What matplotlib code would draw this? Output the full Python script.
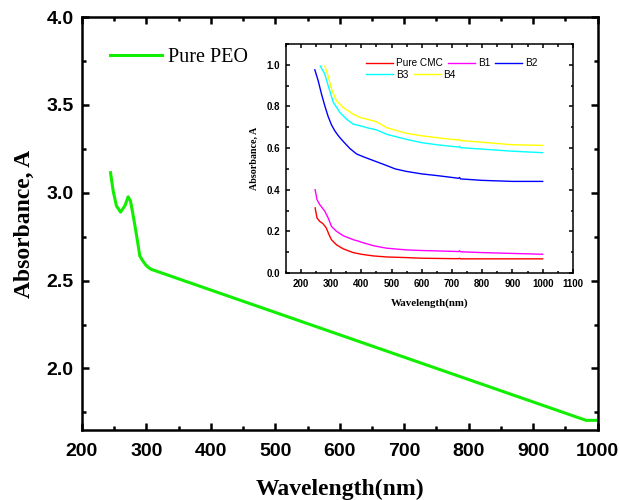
import numpy as np
import matplotlib.pyplot as plt
from matplotlib.ticker import MultipleLocator

SANS = "Liberation Sans"
SERIF = "Liberation Serif"

# main plot: pure PEO
peo_wl = [244.5, 248.6, 253.7, 260, 266.7, 271.8, 275.5, 280.6, 285.8, 289.9,
          295, 300, 307, 982, 1000]
peo_abs = [3.114, 3.01, 2.925, 2.89, 2.925, 2.977, 2.953, 2.85, 2.736, 2.64,
           2.61, 2.585, 2.565, 1.705, 1.705]

# inset: CMC blends
cmc_wl = [247, 253, 262, 273, 284, 293, 301, 318, 340, 373, 400, 440, 484, 549,
          600, 650, 700, 722, 725, 728, 800, 900, 1000]
cmc_abs = [0.313, 0.265, 0.248, 0.237, 0.216, 0.184, 0.16, 0.135, 0.116, 0.098,
           0.090, 0.082, 0.077, 0.074, 0.071, 0.070, 0.069, 0.069, 0.071, 0.068,
           0.068, 0.068, 0.068]

b1_wl = [247, 253, 262, 279, 290, 301, 318, 340, 373, 390, 400, 440, 484, 549,
         600, 650, 700, 722, 725, 728, 800, 900, 1000]
b1_abs = [0.40, 0.353, 0.329, 0.297, 0.265, 0.224, 0.20, 0.179, 0.16, 0.153,
          0.148, 0.131, 0.119, 0.111, 0.108, 0.106, 0.104, 0.103, 0.107, 0.102,
          0.098, 0.094, 0.090]

b2_wl = [246, 257, 268, 279, 290, 301, 312, 325, 340, 362, 384, 407, 440, 484,
         512, 549, 600, 650, 700, 722, 725, 728, 800, 900, 1000]
b2_abs = [0.976, 0.924, 0.86, 0.803, 0.752, 0.712, 0.683, 0.657, 0.632, 0.598,
          0.572, 0.558, 0.54, 0.516, 0.50, 0.488, 0.476, 0.468, 0.459, 0.455,
          0.459, 0.452, 0.445, 0.440, 0.440]

b3_wl = [264, 279, 290, 307, 329, 351, 373, 407, 418, 451, 484, 549, 600, 650,
         700, 722, 725, 728, 800, 900, 1000]
b3_abs = [0.994, 0.956, 0.90, 0.82, 0.771, 0.739, 0.715, 0.703, 0.698, 0.687,
          0.666, 0.642, 0.626, 0.616, 0.608, 0.605, 0.609, 0.602, 0.595, 0.585,
          0.578]

b4_wl = [279, 290, 301, 318, 340, 373, 396, 418, 451, 484, 549, 600, 650, 700,
         722, 725, 728, 800, 900, 1000]
b4_abs = [0.994, 0.948, 0.884, 0.827, 0.795, 0.763, 0.747, 0.739, 0.726, 0.698,
          0.671, 0.659, 0.65, 0.642, 0.639, 0.643, 0.636, 0.628, 0.616, 0.613]


def style_axes(ax, lw, major, minor, size, pad):
    for s in ax.spines.values():
        s.set_linewidth(lw)
    ax.tick_params(which="both", direction="in", top=True, right=True, width=lw)
    ax.tick_params(which="major", length=major, labelsize=size, pad=pad)
    ax.tick_params(which="minor", length=minor)
    for t in ax.get_xticklabels() + ax.get_yticklabels():
        t.set_fontfamily(SANS)
        t.set_fontweight("bold")


fig = plt.figure(figsize=(6.2, 5.0), dpi=100)
ax = fig.add_axes([0.132, 0.14, 0.832, 0.826])
ax.plot(peo_wl, peo_abs, color="#11ee00", lw=2.2, label="Pure PEO")
ax.set_xlim(200, 1000)
ax.set_ylim(1.65, 4.0)
ax.xaxis.set_major_locator(MultipleLocator(100))
ax.xaxis.set_minor_locator(MultipleLocator(50))
ax.yaxis.set_major_locator(MultipleLocator(0.5))
ax.yaxis.set_minor_locator(MultipleLocator(0.25))
style_axes(ax, 1.8, 5, 3, 14, 6)
ax.tick_params(axis="x", which="major", pad=9)
ax.set_xlabel("Wavelength(nm)", family=SERIF, weight="bold", size=17, labelpad=14)
ax.set_ylabel("Absorbance, A", family=SERIF, weight="bold", size=17, labelpad=8)
ax.legend(loc="center left", bbox_to_anchor=(0.054, 0.903), frameon=False,
          borderpad=0, borderaxespad=0, handlelength=2.6, handletextpad=0.3,
          prop={"family": SERIF, "size": 14.5})

# inset
ins = fig.add_axes([0.461, 0.454, 0.463, 0.458])
l1, = ins.plot(cmc_wl, cmc_abs, color="#ff0000", lw=1.0, label="Pure CMC")
l2, = ins.plot(b1_wl, b1_abs, color="#ff00ff", lw=1.0, label="B1")
l3, = ins.plot(b2_wl, b2_abs, color="#0000ff", lw=1.0, label="B2")
l4, = ins.plot(b3_wl, b3_abs, color="#00ffff", lw=1.0, label="B3")
l5, = ins.plot(b4_wl, b4_abs, color="#ffff00", lw=1.0, label="B4")
ins.set_xlim(150, 1100)
ins.set_ylim(0, 1.1)
ins.xaxis.set_major_locator(MultipleLocator(100))
ins.xaxis.set_minor_locator(MultipleLocator(50))
ins.yaxis.set_major_locator(MultipleLocator(0.2))
ins.yaxis.set_minor_locator(MultipleLocator(0.1))
ins.set_xticks(np.arange(200, 1101, 100))
ins.set_yticks(np.arange(0, 1.01, 0.2))
ins.set_yticklabels([f"{v:.1f}" for v in np.arange(0, 1.01, 0.2)])
style_axes(ins, 1.1, 3, 1.8, 7, 4)
ins.set_xlabel("Wavelength(nm)", family=SERIF, weight="bold", size=7.8, labelpad=7)
ins.set_ylabel("Absorbance, A", family=SERIF, weight="bold", size=7.2, labelpad=6)

leg_kw = dict(loc="center left", frameon=False, borderpad=0, borderaxespad=0,
              handlelength=2.7, handletextpad=0.3, columnspacing=0.5,
              prop={"family": SANS, "size": 7.2})
leg1 = ins.legend(handles=[l1, l2, l3], ncol=3, bbox_to_anchor=(0.28, 0.916), **leg_kw)
ins.add_artist(leg1)
ins.legend(handles=[l4, l5], ncol=2, bbox_to_anchor=(0.28, 0.865), **leg_kw)

fig.savefig("out.png", dpi=100)
